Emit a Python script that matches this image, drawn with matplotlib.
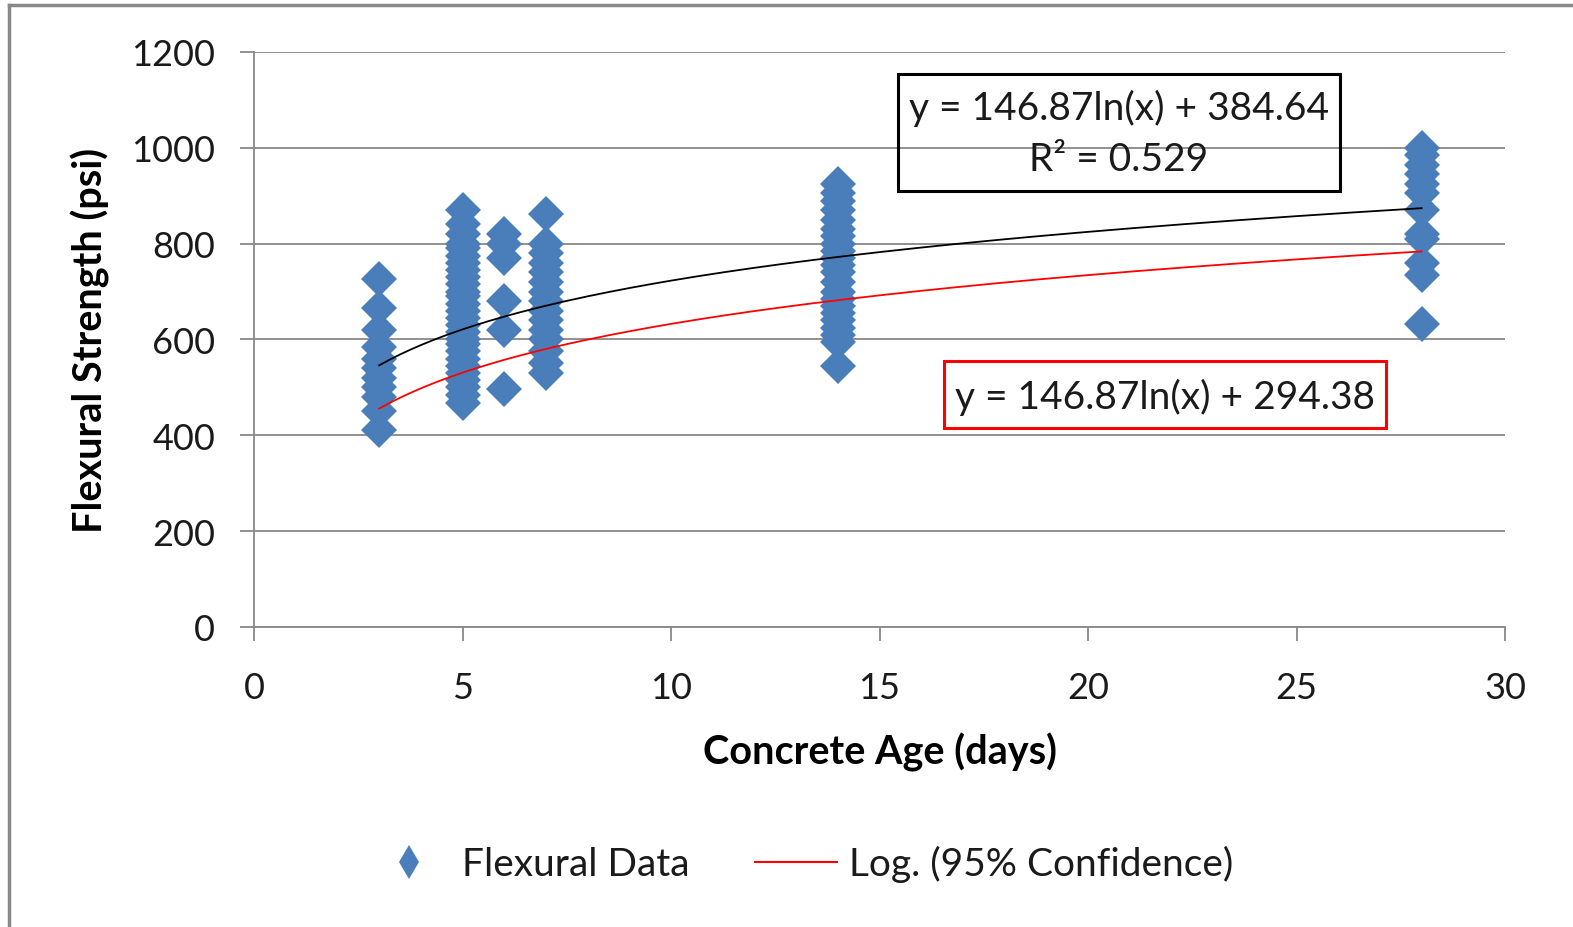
import numpy as np
import matplotlib
matplotlib.use("Agg")
import matplotlib.pyplot as plt
from matplotlib.lines import Line2D
from matplotlib.patches import Rectangle

plt.rcParams['font.family'] = ['Lato', 'DejaVu Sans']

# 数据
age_3 = [727, 665, 620, 585, 560, 540, 520, 500, 480, 450, 412]
age_5 = [870, 840, 820, 800, 790, 775, 760, 745, 730, 715, 700, 690, 675, 660,
         645, 630, 615, 600, 590, 575, 560, 545, 530, 515, 500, 485, 468]
age_6 = [820, 800, 770, 680, 620, 497]
age_7 = [862, 800, 780, 760, 740, 720, 700, 680, 660, 640, 620, 600, 575, 550, 530]
age_14 = [925, 905, 890, 870, 850, 830, 815, 800, 785, 770, 755, 740, 720, 700,
          685, 670, 655, 640, 625, 610, 595, 545]
age_28 = [1000, 985, 965, 945, 925, 905, 870, 820, 810, 760, 735, 632]

ages = [3, 5, 6, 7, 14, 28]
strengths = [age_3, age_5, age_6, age_7, age_14, age_28]

# 趋势线系数
slope = 146.87
icpt_fit = 384.64
icpt_95 = 294.38
r2 = 0.529

x_all = []
y_all = []
for a, vals in zip(ages, strengths):
    x_all += [a] * len(vals)
    y_all += vals

blue = "#4a7ebb"
gray = "#888888"

fig = plt.figure(figsize=(15.73, 9.28), dpi=100)
ax = fig.add_axes([0.1615, 0.3233, 0.7953, 0.6196])

ax.plot(x_all, y_all, linestyle="none", marker="D", markersize=18.8,
        color=blue, markeredgewidth=0, zorder=3)

xt = np.linspace(3, 28, 200)
ax.plot(xt, slope * np.log(xt) + icpt_fit, color="black", lw=1.3, zorder=4)
ax.plot(xt, slope * np.log(xt) + icpt_95, color="red", lw=1.3, zorder=4)

ax.set_xlim(0, 30)
ax.set_ylim(0, 1200)
ax.set_xticks(range(0, 31, 5))
ax.set_yticks(range(0, 1201, 200))
ax.grid(axis="y", color=gray, lw=1.3)
ax.set_axisbelow(True)
for s in ["top", "right"]:
    ax.spines[s].set_visible(False)
for s in ["left", "bottom"]:
    ax.spines[s].set_color(gray)
    ax.spines[s].set_linewidth(1.3)
ax.tick_params(axis="both", length=10, width=1.3, color=gray,
               labelsize=26, labelcolor="#1a1a1a")
ax.tick_params(axis="y", pad=18)
ax.tick_params(axis="x", pad=22)

ax.set_xlabel("Concrete Age (days)", fontsize=28.5, fontweight="bold", labelpad=20)
ax.set_ylabel("Flexural Strength (psi)", fontsize=28.5, fontweight="bold", labelpad=15)

# 方程框
fig.add_artist(Rectangle((898 / 1573, 1 - 192 / 928), 442 / 1573, 117 / 928,
                         transform=fig.transFigure, fill=False, ec="black", lw=2.2))
fig.text(1119 / 1573, 1 - 108 / 928, "y = 146.87ln(x) + 384.64", ha="center",
         va="center", fontsize=28, color="#1a1a1a")
fig.text(1119 / 1573, 1 - 160 / 928, "R² = 0.529", ha="center",
         va="center", fontsize=28, color="#1a1a1a")

fig.add_artist(Rectangle((944 / 1573, 1 - 429 / 928), 442 / 1573, 67 / 928,
                         transform=fig.transFigure, fill=False, ec="red", lw=2.2))
fig.text(1165 / 1573, 1 - 397 / 928, "y = 146.87ln(x) + 294.38", ha="center",
         va="center", fontsize=28, color="#1a1a1a")

# 图例
h1 = Line2D([], [], linestyle="none", marker="d", markersize=17, color=blue,
            markeredgewidth=0)
h2 = Line2D([], [], color="red", lw=1.5)
fig.legend([h1, h2], ["Flexural Data", "Log. (95% Confidence)"], ncol=2,
           loc="center", bbox_to_anchor=(0.509, 0.068), frameon=False,
           fontsize=28, handlelength=2.1, handletextpad=0.3, columnspacing=1.7,
           labelcolor="#1a1a1a")

# 外框
fig.add_artist(Line2D([9 / 1573, 9 / 1573], [0, 1 - 6 / 928],
                      transform=fig.transFigure, color=gray, lw=2.5))
fig.add_artist(Line2D([9 / 1573, 1], [1 - 6 / 928, 1 - 6 / 928],
                      transform=fig.transFigure, color=gray, lw=2.5))

plt.savefig("out.png", dpi=100)
